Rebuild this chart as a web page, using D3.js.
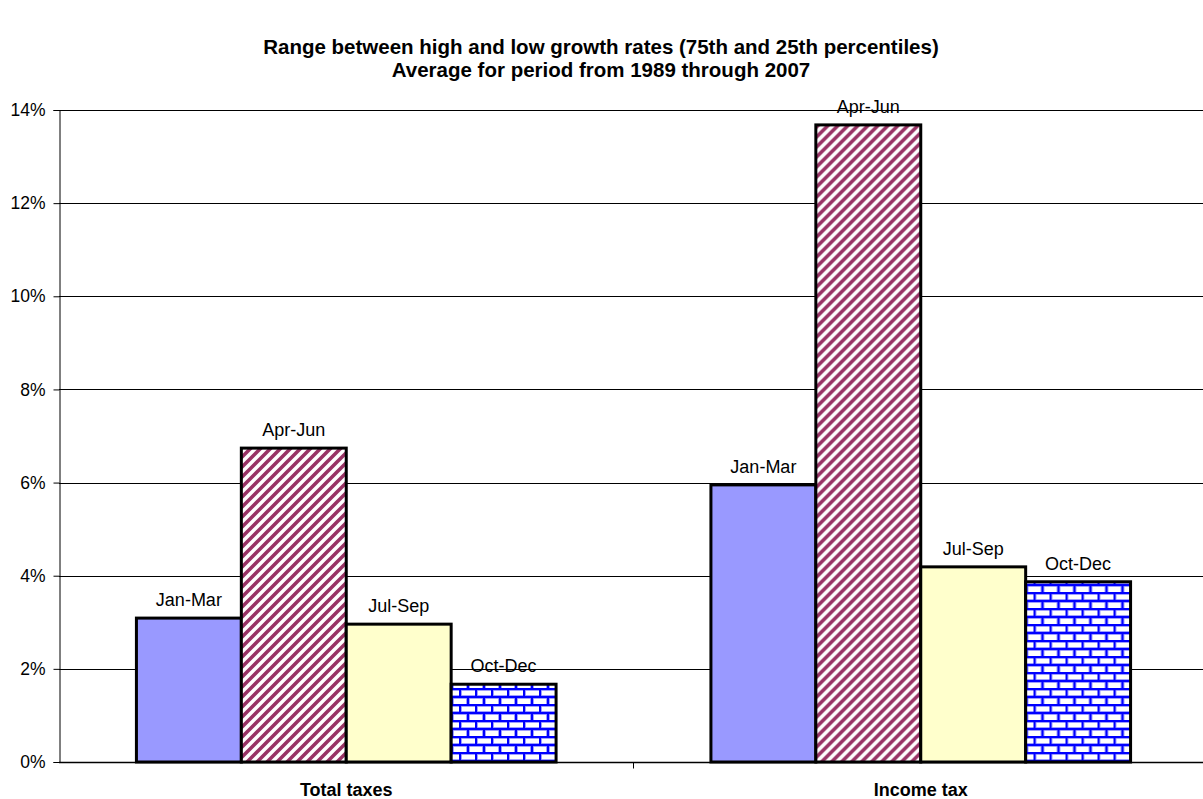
<!DOCTYPE html>
<html>
<head>
<meta charset="utf-8">
<script src="https://cdn.jsdelivr.net/npm/d3@7"></script>
<style>
  html, body { margin: 0; padding: 0; background: #fff; }
  svg { display: block; font-family: Arial, "Liberation Sans", sans-serif; }
</style>
</head>
<body>
<svg id="chart" width="1203" height="799"></svg>
<script>
// Interquartile range of quarterly growth rates, 1989-2007
const categories = ["Total taxes", "Income tax"];
const quarters = ["Jan-Mar", "Apr-Jun", "Jul-Sep", "Oct-Dec"];
const janMar = [3.09, 5.95];
const aprJun = [6.74, 13.68];
const julSep = [2.96, 4.19];
const octDec = [1.67, 3.87];
const yTicks = [0, 2, 4, 6, 8, 10, 12, 14];
const titleLines = [
  "Range between high and low growth rates (75th and 25th percentiles)",
  "Average for period from 1989 through 2007"
];

const series = [janMar, aprJun, julSep, octDec];
const fills = ["#9999FF", "url(#stripes)", "#FFFFCC", "url(#bricks)"];

const svg = d3.select("#chart");
const margin = { left: 59, right: -5, top: 110, bottom: 37 };
const W = 1203, H = 799;
const x0 = d3.scaleBand().domain(categories).range([margin.left, W - margin.right]).paddingInner(0).paddingOuter(0);
const x1 = d3.scaleBand().domain(quarters).range([0, x0.bandwidth()]).paddingInner(0).paddingOuter(0.738);
const y = d3.scaleLinear().domain([0, 14]).range([H - margin.bottom, margin.top]);

// Fill patterns
const defs = svg.append("defs");
const st = defs.append("pattern").attr("id", "stripes").attr("patternUnits", "userSpaceOnUse")
  .attr("width", 10).attr("height", 10);
st.append("rect").attr("width", 10).attr("height", 10).attr("fill", "#fff");
st.append("path").attr("d", "M-2,12 L12,-2 M-7,7 L7,-7 M3,17 L17,3")
  .attr("stroke", "#993366").attr("stroke-width", 3.6);

const br = defs.append("pattern").attr("id", "bricks").attr("patternUnits", "userSpaceOnUse")
  .attr("width", 16).attr("height", 16);
br.append("rect").attr("width", 16).attr("height", 16).attr("fill", "#fff");
br.append("path").attr("d", "M0,1 H16 M0,9 H16 M1,1 V9 M9,9 V17")
  .attr("stroke", "#7f7fff").attr("stroke-width", 3.5);
br.append("path").attr("d", "M0,1 H16 M0,9 H16 M1,1 V9 M9,9 V17")
  .attr("stroke", "#0000FF").attr("stroke-width", 2);

// Title
svg.append("g").selectAll("text").data(titleLines).join("text")
  .attr("x", 601).attr("y", (d, i) => 54 + i * 23)
  .attr("text-anchor", "middle").attr("font-weight", "bold").attr("font-size", 20.5)
  .text(d => d);

// Gridlines
svg.append("g").selectAll("line").data(yTicks.filter(t => t > 0)).join("line")
  .attr("x1", margin.left).attr("x2", W)
  .attr("y1", d => Math.round(y(d)) + 0.5).attr("y2", d => Math.round(y(d)) + 0.5)
  .attr("stroke", "#000").attr("stroke-width", 1);

// Y axis
const yAxis = d3.axisLeft(y).tickValues(yTicks).tickFormat(d => d + "%").tickSize(6).tickPadding(8);
const gy = svg.append("g").attr("transform", `translate(${margin.left + 0.5},0)`).call(yAxis);
gy.select(".domain").attr("stroke", "#000");
gy.selectAll(".tick line").attr("stroke", "#000");
gy.selectAll(".tick text").attr("font-size", 17.5).attr("fill", "#000")
  .attr("font-family", "Arial, 'Liberation Sans', sans-serif");

// Bars
const groups = svg.append("g").selectAll("g").data(categories).join("g")
  .attr("transform", d => `translate(${x0(d)},0)`);
groups.each(function(cat, ci) {
  const g = d3.select(this);
  quarters.forEach((q, qi) => {
    const v = series[qi][ci];
    g.append("rect")
      .attr("x", x1(q)).attr("width", x1.bandwidth())
      .attr("y", y(v)).attr("height", y(0) - y(v))
      .attr("fill", fills[qi]).attr("stroke", "#000").attr("stroke-width", 3);
    g.append("text")
      .attr("x", x1(q) + x1.bandwidth() / 2).attr("y", y(v) - 12)
      .attr("text-anchor", "middle").attr("font-size", 18)
      .text(q);
  });
});

// X axis
const xAxis = d3.axisBottom(x0).tickSize(0).tickPadding(17);
const gx = svg.append("g").attr("transform", `translate(0,${Math.round(y(0)) + 0.5})`).call(xAxis);
gx.select(".domain").remove();
gx.append("line").attr("x1", margin.left).attr("x2", W).attr("stroke", "#000").attr("stroke-width", 1.5);
gx.selectAll(".tick text").attr("font-size", 18).attr("font-weight", "bold").attr("fill", "#000")
  .attr("font-family", "Arial, 'Liberation Sans', sans-serif").attr("dy", "0.9em");
// Category separator tick
gx.append("line").attr("x1", x0("Income tax")).attr("x2", x0("Income tax"))
  .attr("y1", 0).attr("y2", 6).attr("stroke", "#000");
</script>
</body>
</html>
